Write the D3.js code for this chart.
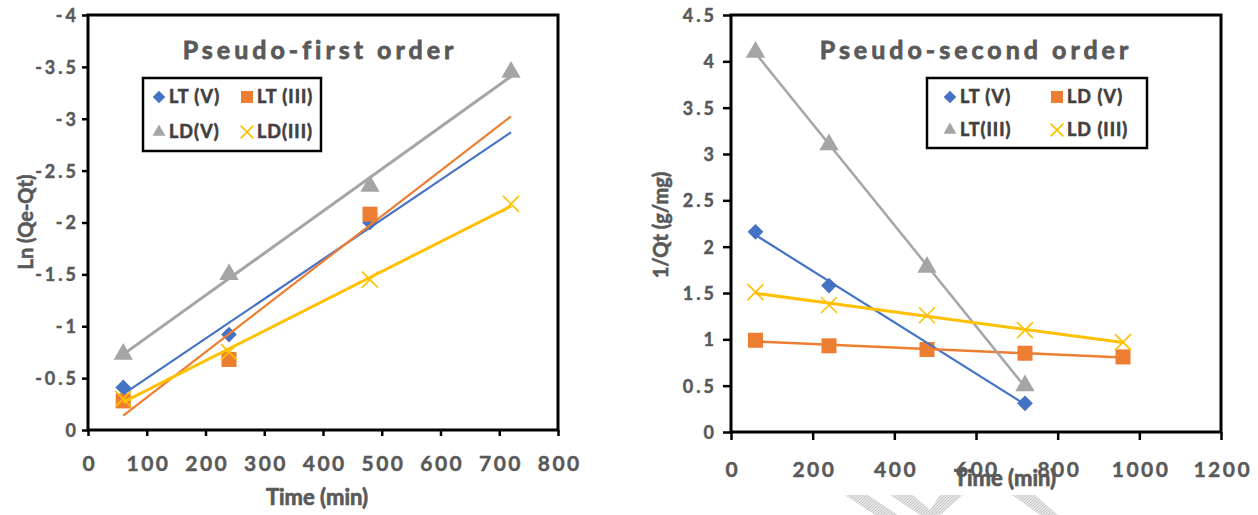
<!DOCTYPE html>
<html><head><meta charset="utf-8">
<script src="https://cdn.jsdelivr.net/npm/d3@7"></script>
<style>
body{margin:0;background:#fff}
svg{display:block}
text{font-family:Lato,"Liberation Sans",sans-serif;font-weight:bold;fill:#595959;stroke:#595959;stroke-width:0.45px}
</style>
</head><body>
<svg id="c" width="1258" height="515"></svg>
<script>
// ---------- data ----------
const firstTicksX = [0, 100, 200, 300, 400, 500, 600, 700, 800];
const firstTicksY = [0, -0.5, -1, -1.5, -2, -2.5, -3, -3.5, -4];
const firstLabels = ["LT (V)", "LT (III)", "LD(V)", "LD(III)"];
const first_LTV_t = [60, 240, 480];
const first_LTV = [-0.41, -0.92, -2.00];
const first_LTIII_t = [60, 240, 480];
const first_LTIII = [-0.28, -0.68, -2.08];
const first_LDV_t = [60, 240, 480, 720];
const first_LDV = [-0.73, -1.50, -2.35, -3.45];
const first_LDIII_t = [60, 240, 480, 720];
const first_LDIII = [-0.30, -0.75, -1.45, -2.18];
const firstTrendSpan = [60, 720];

const secondTicksX = [0, 200, 400, 600, 800, 1000, 1200];
const secondTicksY = [0, 0.5, 1, 1.5, 2, 2.5, 3, 3.5, 4, 4.5];
const secondLabels = ["LT (V)", "LD (V)", "LT(III)", "LD (III)"];
const second_LTV_t = [60, 240, 720];
const second_LTV = [2.16, 1.58, 0.31];
const second_LDV_t = [60, 240, 480, 720, 960];
const second_LDV = [0.99, 0.93, 0.89, 0.85, 0.81];
const second_LTIII_t = [60, 240, 480, 720];
const second_LTIII = [4.10, 3.10, 1.78, 0.50];
const second_LDIII_t = [60, 240, 480, 720, 960];
const second_LDIII = [1.51, 1.37, 1.26, 1.10, 0.97];

// ---------- styling ----------
const COLORS = ["#4472C4", "#ED7D31", "#A5A5A5", "#FFC000"];
const SHAPES = ["diamond", "square", "triangle", "x"];

const svg = d3.select("#c");

// watermark decoration (hatched chevrons)
const defs = svg.append("defs");
const pat = defs.append("pattern").attr("id", "hatch").attr("patternUnits", "userSpaceOnUse")
  .attr("width", 3).attr("height", 3);
pat.append("rect").attr("width", 3).attr("height", 3).attr("fill", "#e6e6e6");
pat.append("path").attr("d", "M0,3 L3,0").attr("stroke", "#c4c4c4").attr("stroke-width", 1);
const wm = [
  [[845, 495], [868, 495], [898, 515], [875, 515]],
  [[890, 495], [913, 495], [930, 510], [940, 495], [963, 495], [940, 515], [920, 515]],
  [[1012, 495], [1035, 495], [1058, 515], [1040, 515]]
];
svg.append("g").selectAll("path").data(wm).join("path")
  .attr("d", d => "M" + d.map(p => p.join(",")).join("L") + "Z")
  .attr("fill", "url(#hatch)");

function linFit(ts, vs) {
  const mx = d3.mean(ts), my = d3.mean(vs);
  let sxy = 0, sxx = 0;
  ts.forEach((t, i) => { sxy += (t - mx) * (vs[i] - my); sxx += (t - mx) * (t - mx); });
  const m = sxy / sxx;
  return t => my + m * (t - mx);
}

function marker(g, shape, color, size) {
  if (shape === "diamond") {
    g.append("path").attr("d", d3.symbol(d3.symbolSquare, size * size * 0.55)())
      .attr("transform", "rotate(45)").attr("fill", color);
  } else if (shape === "square") {
    g.append("path").attr("d", d3.symbol(d3.symbolSquare, size * size)()).attr("fill", color);
  } else if (shape === "triangle") {
    g.append("path").attr("d", d3.symbol(d3.symbolTriangle, size * size * 0.5)()).attr("fill", color);
  } else {
    g.append("path").attr("d", d3.symbol(d3.symbolX, size * size * 0.75)())
      .attr("fill", "none").attr("stroke", color).attr("stroke-width", 1.6);
  }
}

function chart(cfg) {
  const x = d3.scaleLinear().domain(cfg.xDomain).range(cfg.xRange);
  const y = d3.scaleLinear().domain(cfg.yDomain).range(cfg.yRange);
  const g = svg.append("g");

  // axes
  const ya = g.append("g").attr("transform", `translate(${cfg.xRange[0]},0)`)
    .call(d3.axisLeft(y).tickValues(cfg.yTicks).tickFormat(d => String(d)).tickSize(cfg.tickLen).tickPadding(cfg.yPad));
  ya.select(".domain").remove();
  ya.selectAll("line").attr("stroke", "#000").attr("stroke-width", 2.5);
  ya.selectAll("text").attr("fill", "#595959").style("font-size", "18px").style("letter-spacing", "3px")
    .attr("dx", "3px").attr("dy", "0.36em");

  const xa = g.append("g").attr("transform", `translate(0,${cfg.yRange[0]})`)
    .call(d3.axisBottom(x).tickValues(cfg.xTicks).tickFormat(d => String(d)).tickSize(cfg.tickLen).tickPadding(cfg.xPad));
  xa.select(".domain").remove();
  xa.selectAll("line").attr("stroke", "#000").attr("stroke-width", 2.5);
  xa.selectAll("text").attr("fill", "#595959").style("font-size", "21px").style("letter-spacing", "2.5px")
    .attr("dx", "1.25px");

  // markers first
  cfg.series.forEach((s, i) => {
    s.t.forEach((t, j) => {
      const mg = g.append("g").attr("transform", `translate(${x(t)},${y(s.v[j])})`);
      marker(mg, SHAPES[i], COLORS[i], cfg.mSize[i]);
    });
  });
  // lines (linear trendlines)
  cfg.series.forEach((s, i) => {
    const f = linFit(s.t, s.v);
    const span = cfg.trendSpan || d3.extent(s.t);
    g.append("line")
      .attr("x1", x(span[0])).attr("y1", y(f(span[0])))
      .attr("x2", x(span[1])).attr("y2", y(f(span[1])))
      .attr("stroke", COLORS[i]).attr("stroke-width", cfg.lw[i]);
  });

  // frame
  g.append("rect")
    .attr("x", cfg.xRange[0]).attr("y", cfg.yRange[1])
    .attr("width", cfg.xRange[1] - cfg.xRange[0]).attr("height", cfg.yRange[0] - cfg.yRange[1])
    .attr("fill", "none").attr("stroke", "#000").attr("stroke-width", 3);

  // title
  g.append("text").attr("x", cfg.title.x).attr("y", cfg.title.y).attr("text-anchor", "middle")
    .style("font-size", "25px").style("letter-spacing", "4px").style("stroke-width", "0.8px")
    .text(cfg.title.text);

  // legend
  const L = cfg.legend;
  g.append("rect").attr("x", L.x).attr("y", L.y).attr("width", L.w).attr("height", L.h)
    .attr("fill", "#fff").attr("stroke", "#000").attr("stroke-width", 2.5);
  cfg.labels.forEach((lab, i) => {
    const cx = L.cols[i % 2], cy = L.rows[Math.floor(i / 2)];
    const mg = g.append("g").attr("transform", `translate(${cx},${cy})`);
    marker(mg, SHAPES[i], COLORS[i], 12);
    g.append("text").attr("x", cx + L.gap).attr("y", cy).attr("dy", "0.36em")
      .style("font-size", "18px").style("letter-spacing", "1px")
      .style("fill", "#404040").style("stroke", "#404040").style("stroke-width", "0.6px").text(lab);
  });

  // axis titles
  g.append("text").attr("x", cfg.xTitle.x).attr("y", cfg.xTitle.y).attr("text-anchor", "middle")
    .style("font-size", "22px").style("stroke-width", "0.7px").text("Time (min)");
  g.append("text").attr("transform", `translate(${cfg.yTitle.x},${cfg.yTitle.y}) rotate(-90)`)
    .attr("text-anchor", "middle").style("font-size", "20px").style("stroke-width", "0.6px").text(cfg.yTitle.text);
}

chart({
  xDomain: [0, 800], xRange: [88, 558], yDomain: [0, -4], yRange: [430, 15],
  xTicks: firstTicksX, yTicks: firstTicksY, tickLen: 6, yPad: 6, xPad: 20,
  series: [
    {t: first_LTV_t, v: first_LTV},
    {t: first_LTIII_t, v: first_LTIII},
    {t: first_LDV_t, v: first_LDV},
    {t: first_LDIII_t, v: first_LDIII}
  ],
  trendSpan: firstTrendSpan,
  mSize: [15, 15, 18, 15], lw: [2.2, 2.2, 3, 3],
  labels: firstLabels,
  title: {x: 320, y: 59, text: "Pseudo-first order"},
  legend: {x: 143, y: 78, w: 178, h: 73, cols: [159, 247], rows: [97, 132], gap: 10},
  xTitle: {x: 317, y: 505},
  yTitle: {x: 33, y: 222, text: "Ln (Qe-Qt)"}
});

chart({
  xDomain: [0, 1200], xRange: [731, 1221], yDomain: [0, 4.5], yRange: [432, 15],
  xTicks: secondTicksX, yTicks: secondTicksY, tickLen: 8, yPad: 9, xPad: 22,
  series: [
    {t: second_LTV_t, v: second_LTV},
    {t: second_LDV_t, v: second_LDV},
    {t: second_LTIII_t, v: second_LTIII},
    {t: second_LDIII_t, v: second_LDIII}
  ],
  trendSpan: null,
  mSize: [15, 15, 18, 15], lw: [2.2, 2.5, 2.5, 3],
  labels: secondLabels,
  title: {x: 976, y: 59, text: "Pseudo-second order"},
  legend: {x: 927, y: 78, w: 220, h: 70, cols: [950, 1057], rows: [97, 130], gap: 10},
  xTitle: {x: 1005, y: 486},
  yTitle: {x: 668, y: 225, text: "1/Qt (g/mg)"}
});
</script>
</body></html>
